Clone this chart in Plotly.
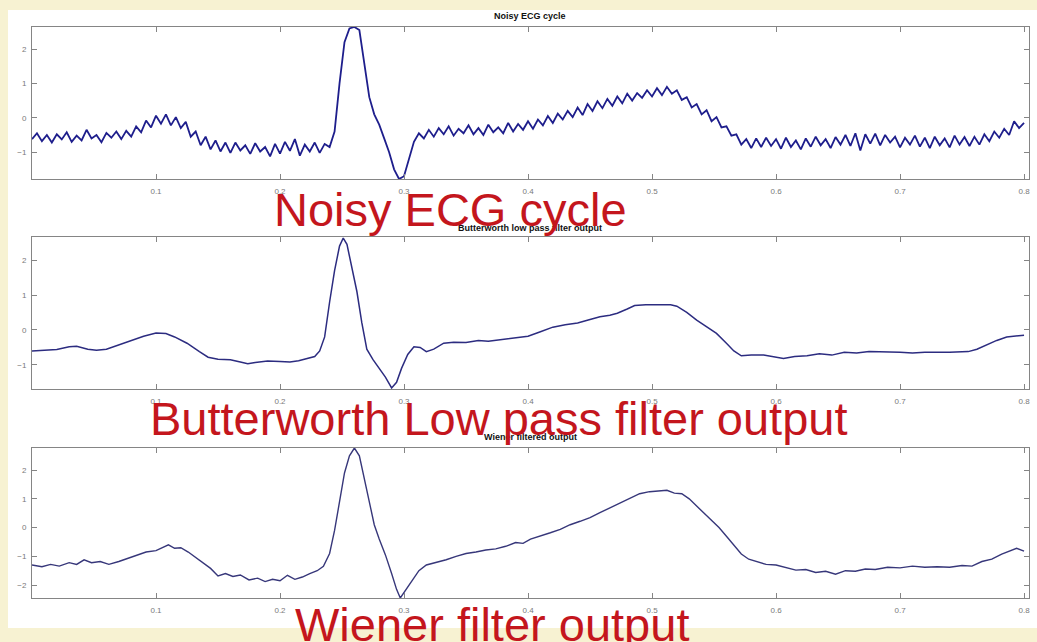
import plotly.graph_objects as go

# ---------------- data ----------------
dt = 0.004  # sample spacing of the noisy record (s)
noisy_y = [
    -0.62, -0.45, -0.68, -0.50, -0.72, -0.48, -0.63, -0.42, -0.70, -0.52,
    -0.66, -0.35, -0.60, -0.50, -0.71, -0.44, -0.58, -0.40, -0.62, -0.38,
    -0.55, -0.25, -0.42, -0.08, -0.28, 0.06, -0.17, 0.10, -0.22, 0.02,
    -0.30, -0.12, -0.55, -0.40, -0.80, -0.55, -0.92, -0.66, -0.98, -0.72,
    -1.02, -0.72, -0.95, -0.80, -1.05, -0.74, -0.98, -0.85, -1.12, -0.76,
    -1.04, -0.70, -0.96, -0.62, -1.10, -0.78, -0.98, -0.72, -1.02, -0.76,
    -0.85, -0.40, 1.00, 2.20, 2.60, 2.64, 2.55, 1.60, 0.60, 0.10,
    -0.20, -0.60, -1.00, -1.50, -1.78, -1.70, -1.20, -0.70, -0.45, -0.60,
    -0.35, -0.55, -0.30, -0.48, -0.25, -0.52, -0.32, -0.45, -0.22, -0.48,
    -0.30, -0.50, -0.20, -0.42, -0.28, -0.45, -0.15, -0.40, -0.18, -0.35,
    -0.10, -0.32, -0.05, -0.22, 0.05, -0.15, 0.12, -0.05, 0.20, 0.02,
    0.30, 0.08, 0.40, 0.20, 0.48, 0.28, 0.55, 0.35, 0.62, 0.42,
    0.70, 0.50, 0.72, 0.58, 0.80, 0.62, 0.86, 0.66, 0.90, 0.70,
    0.80, 0.52, 0.60, 0.30, 0.40, 0.10, 0.22, -0.10, 0.02, -0.28,
    -0.25, -0.52, -0.48, -0.78, -0.62, -0.88, -0.60, -0.85, -0.58, -0.82,
    -0.62, -0.90, -0.58, -0.85, -0.66, -0.92, -0.60, -0.84, -0.55, -0.80,
    -0.62, -0.88, -0.56, -0.78, -0.50, -0.82, -0.45, -0.95, -0.48, -0.75,
    -0.46, -0.80, -0.50, -0.72, -0.55, -0.86, -0.58, -0.78, -0.52, -0.84,
    -0.58, -0.88, -0.55, -0.80, -0.60, -0.86, -0.52, -0.78, -0.56, -0.82,
    -0.55, -0.78, -0.48, -0.68, -0.40, -0.58, -0.32, -0.50, -0.10, -0.30,
    -0.15,
]
noisy_x = [round(i * dt, 4) for i in range(len(noisy_y))]

butter_x = [0.000, 0.010, 0.020, 0.030, 0.036, 0.045, 0.052, 0.060, 0.070, 0.080,
            0.090, 0.100, 0.108, 0.115, 0.125, 0.135, 0.142, 0.150, 0.160, 0.168,
            0.174, 0.180, 0.190, 0.200, 0.208, 0.215, 0.222, 0.228, 0.232, 0.236,
            0.240, 0.244, 0.248, 0.251, 0.254, 0.258, 0.262, 0.266, 0.270, 0.275,
            0.280, 0.285, 0.290, 0.294, 0.298, 0.303, 0.308, 0.313, 0.318, 0.324,
            0.332, 0.340, 0.350, 0.360, 0.368, 0.376, 0.384, 0.392, 0.400, 0.410,
            0.420, 0.430, 0.440, 0.450, 0.458, 0.466, 0.472, 0.480, 0.486, 0.495,
            0.505, 0.515, 0.520, 0.528, 0.536, 0.544, 0.552, 0.560, 0.566, 0.572,
            0.580, 0.590, 0.600, 0.606, 0.615, 0.625, 0.635, 0.645, 0.655, 0.665,
            0.675, 0.690, 0.700, 0.710, 0.720, 0.740, 0.755, 0.762, 0.770, 0.778,
            0.786, 0.795, 0.800]
butter_y = [-0.60, -0.59, -0.56, -0.48, -0.47, -0.55, -0.58, -0.55, -0.42, -0.30,
            -0.18, -0.09, -0.10, -0.20, -0.38, -0.62, -0.78, -0.84, -0.85, -0.92,
            -0.97, -0.93, -0.89, -0.90, -0.92, -0.88, -0.82, -0.76, -0.60, -0.20,
            0.80, 1.70, 2.40, 2.63, 2.45, 1.80, 1.10, 0.20, -0.55, -0.85,
            -1.10, -1.35, -1.66, -1.50, -1.10, -0.70, -0.48, -0.50, -0.62, -0.55,
            -0.38, -0.35, -0.36, -0.30, -0.32, -0.28, -0.24, -0.20, -0.18, -0.05,
            0.08, 0.15, 0.20, 0.30, 0.38, 0.42, 0.48, 0.60, 0.70, 0.72,
            0.71, 0.72, 0.68, 0.50, 0.28, 0.10, -0.10, -0.38, -0.60, -0.74,
            -0.72, -0.72, -0.78, -0.82, -0.76, -0.74, -0.68, -0.72, -0.64, -0.66,
            -0.62, -0.62, -0.64, -0.66, -0.64, -0.64, -0.62, -0.55, -0.42, -0.30,
            -0.20, -0.17, -0.15]

wiener_x = [0.000, 0.008, 0.015, 0.022, 0.030, 0.036, 0.042, 0.048, 0.055, 0.062,
            0.070, 0.078, 0.085, 0.092, 0.100, 0.106, 0.110, 0.115, 0.120, 0.126,
            0.132, 0.138, 0.144, 0.150, 0.156, 0.162, 0.168, 0.175, 0.182, 0.188,
            0.194, 0.200, 0.206, 0.212, 0.218, 0.224, 0.230, 0.235, 0.240, 0.244,
            0.248, 0.252, 0.256, 0.260, 0.264, 0.268, 0.272, 0.276, 0.280, 0.285,
            0.290, 0.294, 0.297, 0.301, 0.306, 0.312, 0.318, 0.326, 0.334, 0.342,
            0.350, 0.358, 0.366, 0.374, 0.382, 0.390, 0.396, 0.402, 0.410, 0.418,
            0.426, 0.434, 0.442, 0.450, 0.458, 0.466, 0.474, 0.482, 0.490, 0.498,
            0.506, 0.512, 0.518, 0.524, 0.530, 0.536, 0.542, 0.548, 0.554, 0.560,
            0.566, 0.572, 0.578, 0.585, 0.592, 0.600, 0.608, 0.616, 0.624, 0.632,
            0.640, 0.648, 0.656, 0.664, 0.672, 0.680, 0.690, 0.700, 0.710, 0.720,
            0.730, 0.740, 0.750, 0.758, 0.766, 0.774, 0.782, 0.788, 0.794, 0.800]
wiener_y = [-1.30, -1.36, -1.28, -1.34, -1.22, -1.28, -1.12, -1.22, -1.18, -1.28,
            -1.18, -1.05, -0.95, -0.85, -0.80, -0.68, -0.60, -0.72, -0.70, -0.85,
            -1.05, -1.25, -1.42, -1.68, -1.60, -1.70, -1.65, -1.82, -1.76, -1.88,
            -1.80, -1.85, -1.66, -1.80, -1.72, -1.60, -1.50, -1.35, -0.90, -0.10,
            0.90, 1.90, 2.50, 2.77, 2.50, 1.70, 0.80, 0.10, -0.40, -0.95,
            -1.60, -2.15, -2.45, -2.20, -1.85, -1.50, -1.30, -1.22, -1.12, -1.00,
            -0.90, -0.85, -0.78, -0.74, -0.65, -0.52, -0.55, -0.40, -0.30, -0.18,
            -0.06, 0.10, 0.22, 0.35, 0.52, 0.68, 0.85, 1.00, 1.18, 1.25,
            1.28, 1.30, 1.20, 1.18, 1.00, 0.75, 0.50, 0.25, 0.00, -0.30,
            -0.62, -0.92, -1.10, -1.20, -1.28, -1.30, -1.40, -1.48, -1.46, -1.56,
            -1.52, -1.62, -1.50, -1.52, -1.44, -1.46, -1.38, -1.40, -1.34, -1.38,
            -1.36, -1.38, -1.32, -1.34, -1.18, -1.10, -0.92, -0.82, -0.72, -0.82]

panel_titles = ["Noisy ECG cycle", "Butterworth low pass filter output", "Wiener filtered output"]
overlay_labels = ["Noisy ECG cycle", "Butterworth Low pass filter output", "Wiener filter output"]
x_ticks = [0.1, 0.2, 0.3, 0.4, 0.5, 0.6, 0.7, 0.8]
y_ticks = [[-1, 0, 1, 2], [-1, 0, 1, 2], [-2, -1, 0, 1, 2]]
y_ranges = [[-1.78, 2.64], [-1.69, 2.66], [-2.45, 2.77]]

# ---------------- layout helpers ----------------
W, H = 1037, 642
def px(v):
    return v / W
def py(v):
    return 1 - v / H

x_dom = [px(32), px(1029)]
y_doms = [[py(179), py(27)], [py(389), py(237)], [py(598), py(448)]]

fig = go.Figure()
series = [(noisy_x, noisy_y, "#1e1e8c", 1.8), (butter_x, butter_y, "#2c2c80", 1.5),
          (wiener_x, wiener_y, "#37377a", 1.4)]
for i, (xs, ys, col, w) in enumerate(series):
    ax = "" if i == 0 else str(i + 1)
    fig.add_trace(go.Scatter(x=xs, y=ys, mode="lines", line=dict(color=col, width=w),
                             xaxis="x" + ax, yaxis="y" + ax, showlegend=False,
                             hoverinfo="skip"))

axis_common = dict(showline=True, linecolor="#858585", linewidth=1, mirror="ticks",
                   ticks="inside", ticklen=5, tickcolor="#858585", showgrid=False,
                   zeroline=False, tickfont=dict(family="Liberation Sans, Arial", size=8, color="#7a7a7a"))
layout = dict(width=W, height=H, margin=dict(l=0, r=0, t=0, b=0),
              paper_bgcolor="#f7f2d2", plot_bgcolor="white", showlegend=False)
for i in range(3):
    ax = "" if i == 0 else str(i + 1)
    layout["xaxis" + ax] = dict(axis_common, domain=x_dom, range=[0, 0.804], tickvals=x_ticks,
                                ticktext=[str(t) for t in x_ticks], anchor="y" + ax,
                                ticklabelstandoff=4)
    layout["yaxis" + ax] = dict(axis_common, domain=y_doms[i], range=y_ranges[i],
                                tickvals=y_ticks[i], anchor="x" + ax, ticklabelstandoff=3)
fig.update_layout(**layout)

# white page area
fig.add_shape(type="rect", xref="paper", yref="paper", x0=px(8), x1=1, y0=py(628), y1=py(10),
              fillcolor="white", line=dict(width=0), layer="below")

# small bold panel titles
title_y = [16, 228, 437]
for t, yv in zip(panel_titles, title_y):
    fig.add_annotation(text="<b>" + t + "</b>", xref="paper", yref="paper", x=px(530), y=py(yv),
                       showarrow=False, font=dict(family="Liberation Sans, Arial", size=9, color="#111"),
                       xanchor="center", yanchor="middle")

# large red overlay labels
red_pos = [(450, 210), (499, 418), (492, 624)]
for t, (xv, yv) in zip(overlay_labels, red_pos):
    fig.add_annotation(text=t, xref="paper", yref="paper", x=px(xv), y=py(yv),
                       showarrow=False, font=dict(family="Liberation Sans, Arial", size=47, color="#c4161d"),
                       xanchor="center", yanchor="middle")

fig.write_html("out.html")
